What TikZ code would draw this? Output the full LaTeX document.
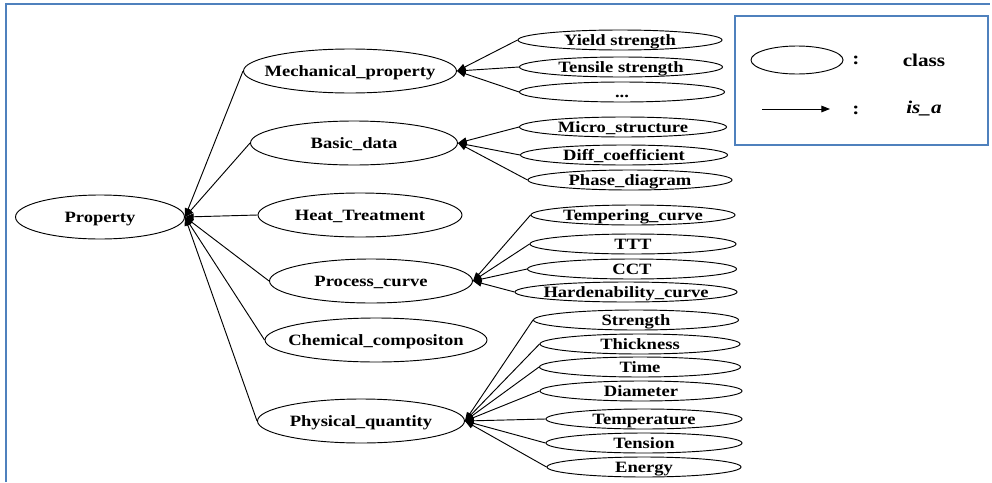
\documentclass[tikz,border=0pt]{standalone}
\usepackage{fontspec}
\setmainfont{Liberation Serif}[FakeStretch=1.18]
\usetikzlibrary{shapes.geometric,arrows.meta}
\definecolor{framblue}{RGB}{79,129,189}
% centred label that does not change the size of its ellipse
\newcommand\lbl[1]{\raisebox{-0.33em}[0pt][0pt]{\makebox[0pt]{#1}}}

\begin{document}
\begin{tikzpicture}[x=0.75pt,y=-0.75pt,
  cls/.style 2 args={ellipse, draw, line width=0.7pt, inner sep=0pt,
    minimum width=#1*0.75pt, minimum height=#2*0.75pt,
    font=\bfseries\fontsize{11.8}{14}\selectfont},
  big/.style={cls={#1}{44}},
  small/.style={cls={#1}{20}},
  isa/.style={line width=0.7pt, -{Triangle[length=6.5pt,width=5pt]}},
  frame/.style={draw=framblue, line width=1.5pt},
  legtext/.style={font=\bfseries\fontsize{13.5}{16}\selectfont, inner sep=0pt}]
\useasboundingbox (0,0) rectangle (992,482);

% outer frame (top and left sides only)
\draw[frame] (6,482) -- (6,4) -- (990,4);

% root and first level
\node[big=169] (prop) at (100,217) {\lbl{Property}};
\node[big=213] (mech) at (350,71) {\lbl{Mechanical\_property}};
\node[big=207] (basic) at (354,143) {\lbl{Basic\_data}};
\node[big=204] (heat) at (360,215) {\lbl{Heat\_Treatment}};
\node[big=203] (proc) at (371,281) {\lbl{Process\_curve}};
\node[big=222] (chem) at (376,340) {\lbl{Chemical\_compositon}};
\node[big=207] (phys) at (361,421) {\lbl{Physical\_quantity}};

% second level
\node[small=204] (yield) at (620,40) {\lbl{Yield strength}};
\node[small=203] (tens) at (621,67) {\lbl{Tensile strength}};
\node[small=205] (dots) at (622,92) {\lbl{...}};
\node[small=207] (micro) at (623,127) {\lbl{Micro\_structure}};
\node[small=207] (diff) at (624,155) {\lbl{Diff\_coefficient}};
\node[small=204] (phase) at (630,180) {\lbl{Phase\_diagram}};
\node[small=204] (temper) at (633,215) {\lbl{Tempering\_curve}};
\node[small=206] (ttt) at (633,244) {\lbl{TTT}};
\node[small=209] (cct) at (632,269) {\lbl{CCT}};
\node[small=222] (hard) at (626,292) {\lbl{Hardenability\_curve}};
\node[small=205] (stren) at (636,320) {\lbl{Strength}};
\node[small=200] (thick) at (640,344) {\lbl{Thickness}};
\node[small=201] (time) at (640,367) {\lbl{Time}};
\node[small=202] (diam) at (641,391) {\lbl{Diameter}};
\node[small=196] (tempr) at (644,419) {\lbl{Temperature}};
\node[small=196] (tensn) at (644,443) {\lbl{Tension}};
\node[small=194] (energy) at (644,467) {\lbl{Energy}};

% is_a relations
\foreach \c in {mech,basic,heat,proc,chem,phys}
  \draw[isa] (\c.west) -- (prop.east);
\foreach \c in {yield,tens,dots}
  \draw[isa] (\c.west) -- (mech.east);
\foreach \c in {micro,diff,phase}
  \draw[isa] (\c.west) -- (basic.east);
\foreach \c in {temper,ttt,cct,hard}
  \draw[isa] (\c.west) -- (proc.east);
\foreach \c in {stren,thick,time,diam,tempr,tensn,energy}
  \draw[isa] (\c.west) -- (phys.east);

% legend
\draw[draw=framblue, line width=1.2pt] (735,16) rectangle (988,145);
\node[cls={92}{28}] (legcls) at (797,60) {};
\node[legtext] (col1) at (856,60) {:};
\node[legtext] (txt1) at (924,60) {class};
\coordinate (la) at (762,109);
\coordinate (lb) at (830,109);
\draw[isa] (la) -- (lb);
\node[legtext] (col2) at (856,110) {:};
\node[legtext] (txt2) at (924,109) {\itshape is\_a};
\end{tikzpicture}
\end{document}
